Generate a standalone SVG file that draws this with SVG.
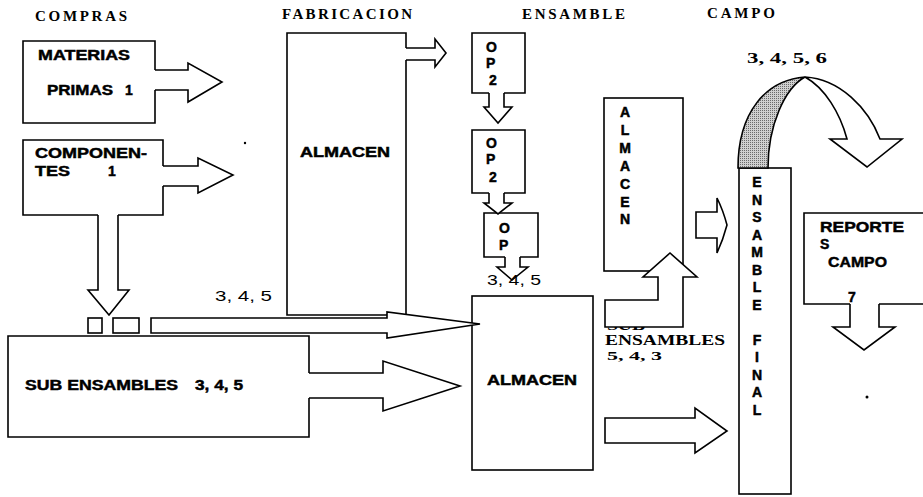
<svg xmlns="http://www.w3.org/2000/svg" width="923" height="497" viewBox="0 0 923 497">
<defs>
<pattern id="dots" width="2" height="2" patternUnits="userSpaceOnUse">
<rect width="2" height="2" fill="#cfcfcf"/>
<rect width="1" height="1" fill="#6a6a6a"/>
</pattern>
<style>
.box{fill:#fff;stroke:#000;stroke-width:1.6}
.open{fill:none;stroke:#000;stroke-width:1.6}
.bg{fill:#fff;stroke:none}
.conn{fill:#fff;stroke:#000;stroke-width:1.6;stroke-linejoin:miter}
.hdr{font-family:"Liberation Serif","Times New Roman",serif;font-weight:bold;font-size:15px;fill:#000}
.ser{font-family:"Liberation Serif","Times New Roman",serif;font-weight:bold;font-size:14px;fill:#000}
.lbl{font-family:"Liberation Sans",Arial,sans-serif;font-weight:bold;font-size:14px;fill:#000;stroke:#000;stroke-width:0.45}
.big{font-family:"Liberation Sans",Arial,sans-serif;font-weight:bold;font-size:15px;fill:#000;stroke:#000;stroke-width:0.5}
.num{font-family:"Liberation Sans",Arial,sans-serif;font-size:14px;fill:#000}
.vt{font-family:"Liberation Sans",Arial,sans-serif;font-weight:bold;font-size:14px;fill:#000;stroke:#000;stroke-width:0.5;text-anchor:middle}
</style>
</defs>
<rect width="923" height="497" fill="#fff"/>

<g id="headers">
<text class="hdr" x="35" y="21" textLength="92">COMPRAS</text>
<text class="hdr" x="282" y="19" textLength="130">FABRICACION</text>
<text class="hdr" x="522" y="19" textLength="103">ENSAMBLE</text>
<text class="hdr" x="707" y="18" textLength="68">CAMPO</text>
</g>

<g id="materias">
<path class="box" d="M155,90 V123 H23 V41 H155 V70"/>
<text class="lbl" x="38" y="60" textLength="92" lengthAdjust="spacingAndGlyphs">MATERIAS</text>
<text class="lbl" x="47" y="95" textLength="66" lengthAdjust="spacingAndGlyphs">PRIMAS</text>
<text class="lbl" x="125" y="95">1</text>
</g>

<g id="componentes">
<rect class="bg" x="23" y="140" width="140" height="75"/>
<path class="open" d="M163,186 V215 H118 M98,215 H23 V140 H163 V166"/>
<text class="lbl" x="35" y="158" textLength="112" lengthAdjust="spacingAndGlyphs">COMPONEN-</text>
<text class="lbl" x="35" y="176" textLength="35" lengthAdjust="spacingAndGlyphs">TES</text>
<text class="lbl" x="108" y="176">1</text>
</g>

<g id="piezas">
<rect class="box" x="88" y="318" width="14" height="15"/>
<rect class="box" x="113" y="318" width="26" height="15"/>
</g>

<g id="subensambles">
<path class="box" d="M309,398 V437 H8 V336 H309 V373"/>
<text class="lbl" x="25" y="390" textLength="153" lengthAdjust="spacingAndGlyphs">SUB ENSAMBLES</text>
<text class="lbl" x="195" y="390" textLength="48" lengthAdjust="spacingAndGlyphs">3, 4, 5</text>
</g>

<g id="almacen-fabricacion">
<path class="box" d="M406,60 V315 H287 V33 H406 V48"/>
<text class="big" x="300" y="157" textLength="90" lengthAdjust="spacingAndGlyphs">ALMACEN</text>
</g>

<g id="op1">
<path class="box" d="M504,93 H525 V33 H472 V93 H489"/>
<text class="lbl" x="486" y="52">O</text>
<text class="lbl" x="486" y="68">P</text>
<text class="lbl" x="489" y="85">2</text>
</g>

<g id="op2">
<path class="box" d="M504,193 H525 V130 H472 V193 H489"/>
<text class="lbl" x="486" y="148">O</text>
<text class="lbl" x="486" y="164">P</text>
<text class="lbl" x="489" y="182">2</text>
</g>

<g id="op3">
<path class="box" d="M520,257 H538 V213 H484 V257 H505"/>
<text class="lbl" x="499" y="233">O</text>
<text class="lbl" x="499" y="250">P</text>
</g>

<g id="almacen-ensamble">
<rect class="box" x="472" y="296" width="121" height="174"/>
<text class="big" x="487" y="385" textLength="90" lengthAdjust="spacingAndGlyphs">ALMACEN</text>
</g>

<g id="almacen-vertical">
<rect class="box" x="604" y="98" width="79" height="173"/>
<text class="vt" x="625" y="117">A</text>
<text class="vt" x="625" y="135">L</text>
<text class="vt" x="625" y="153">M</text>
<text class="vt" x="625" y="171">A</text>
<text class="vt" x="625" y="189">C</text>
<text class="vt" x="625" y="207">E</text>
<text class="vt" x="625" y="224">N</text>
</g>

<g id="subensambles-label">
<text class="ser" x="607" y="329.5" textLength="38" lengthAdjust="spacingAndGlyphs" style="font-size:13px">SUB</text>
<text class="ser" x="605" y="345" textLength="120" lengthAdjust="spacingAndGlyphs">ENSAMBLES</text>
<text class="ser" x="607" y="360" textLength="55" lengthAdjust="spacingAndGlyphs" style="font-size:13.5px">5, 4, 3</text>
</g>

<g id="ensamble-final">
<rect class="box" x="739" y="168" width="52" height="326"/>
<text class="vt" x="757" y="187">E</text>
<text class="vt" x="757" y="204.5">N</text>
<text class="vt" x="757" y="222">S</text>
<text class="vt" x="757" y="239.5">A</text>
<text class="vt" x="757" y="257">M</text>
<text class="vt" x="757" y="274.5">B</text>
<text class="vt" x="757" y="292">L</text>
<text class="vt" x="757" y="309.5">E</text>
<text class="vt" x="757" y="344.5">F</text>
<text class="vt" x="757" y="362">I</text>
<text class="vt" x="757" y="379.5">N</text>
<text class="vt" x="757" y="397">A</text>
<text class="vt" x="757" y="414.5">L</text>
</g>

<g id="reportes">
<path class="box" d="M879,304 H925 V213 H804 V304 H850"/>
<text class="lbl" x="820" y="232" textLength="84" lengthAdjust="spacingAndGlyphs">REPORTE</text>
<text class="lbl" x="820" y="249">S</text>
<text class="lbl" x="828" y="267" textLength="59" lengthAdjust="spacingAndGlyphs">CAMPO</text>
<text class="lbl" x="848" y="302">7</text>
</g>

<g id="connectors">
<path class="conn" d="M155,70 H188 V63 L222,82 L188,102 V90 H155"/>
<path class="conn" d="M163,166 H198 V158 L233,175 L198,193 V186 H163"/>
<path class="conn" d="M98,215 V290 H88 L109,315 L129,290 H118 V215"/>
<path class="conn" d="M151,318 H387 V312 L480,324 L387,338 V333 H151 Z"/>
<path class="conn" d="M309,373 H383 V361 L460,386 L383,411 V398 H309"/>
<path class="conn" d="M406,48 H435 V39 L446,53 L435,67 V60 H406"/>
<path class="conn" d="M489,93 V107 H484 L498,123 L512,107 H504 V93"/>
<path class="conn" d="M489,193 V203 H484 L498,214 L512,203 H504 V193"/>
<path class="conn" d="M505,257 V267 H497 L512,280 L528,267 H520 V257"/>
<path class="conn" d="M605,300 H658 V277 H643 L670,253 L697,277 H683 V327 H605 Z"/>
<path class="conn" d="M696,212 H717 V198 Q723,210 727,225 Q723,240 717,253 V238 H696 Z"/>
<path class="conn" d="M605,418 H695 V408 L727,431 L695,453 V443 H605 Z"/>
<path d="M738,168 C738,112 766,80 805,77 C785,88 768,125 768,168 Z" fill="url(#dots)" stroke="#000" stroke-width="1.6"/>
<path class="conn" d="M805,77 C840,79 868,108 880,139 H902 L867,167 L830,139 H847 C840,113 825,88 805,77 Z"/>
<path class="conn" d="M850,304 V327 H833 L864,350 L895,327 H879 V304"/>
</g>

<g id="connector-labels">
<text class="num" x="215" y="301" textLength="57" lengthAdjust="spacingAndGlyphs">3, 4, 5</text>
<text class="num" x="487" y="285" textLength="54" lengthAdjust="spacingAndGlyphs">3, 4, 5</text>
<text class="hdr" x="747" y="63" textLength="80" lengthAdjust="spacingAndGlyphs">3, 4, 5, 6</text>
</g>

<g id="marks">
<circle cx="867" cy="397" r="1.5" fill="#000"/>
<circle cx="245" cy="143" r="1.2" fill="#000"/>
</g>
</svg>
